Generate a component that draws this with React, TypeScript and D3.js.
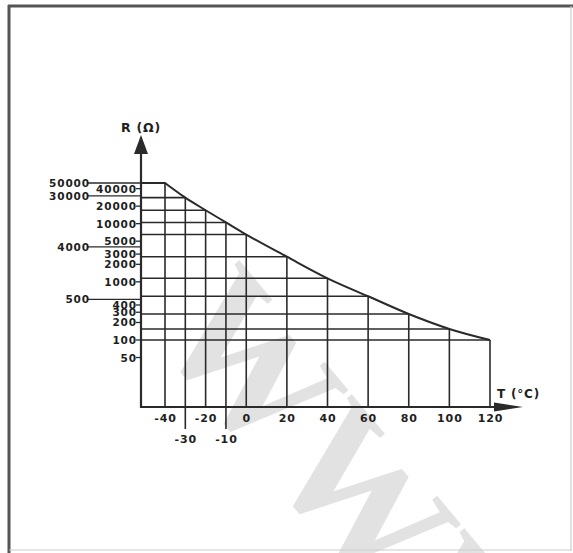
import React from "react";
import * as d3 from "d3";

const temps = [-40, -30, -20, -10, 0, 20, 40, 60, 80, 100, 120];
const resist = [50000, 28000, 17000, 10500, 6500, 2700, 1150, 565, 280, 155, 100];
const xTickRow1 = [-40, -20, 0, 20, 40, 60, 80, 100, 120];
const xTickRow2 = [-30, -10];
const yTicksInner = [40000, 20000, 10000, 5000, 3000, 2000, 1000, 400, 300, 200, 100, 50];
const yTicksOuter = [50000, 30000, 4000, 500];

const W = 573;
const H = 553;
const axisX = 141;
const axisY = 407;

export default function App() {
  const x = d3.scaleLinear().domain([-40, 120]).range([165, 490]);
  const y = d3.scaleLog().domain([100, 50000]).range([340, 183]);

  const pts: [number, number][] = temps.map((t, i) => [x(t), y(resist[i])]);
  const curve = d3.line<[number, number]>().x(d => d[0]).y(d => d[1]).curve(d3.curveMonotoneX);
  const curvePath = `M${axisX},${y(resist[0])}L${pts[0][0]},${pts[0][1]}` + (curve(pts) || "").replace(/^M[^LC]*/, "");

  const ink = "#2a2a2a";
  const font = "'DejaVu Sans', Verdana, sans-serif";

  return (
    <svg width={W} height={H} style={{ position: "absolute", left: 0, top: 0, background: "#fff" }}>
      <rect x={0} y={0} width={W} height={H} fill="#fff" />
      {/* watermark */}
      <text
        transform="translate(150,332) rotate(50)"
        fontFamily="'Liberation Serif', 'DejaVu Serif', serif"
        fontWeight="bold"
        fontSize={175}
        fill="#e2e2e2"
      >
        WWW
      </text>
      {/* frame */}
      <line x1={8} y1={6} x2={573} y2={6} stroke="#555" strokeWidth={3} />
      <line x1={9} y1={5} x2={9} y2={553} stroke="#555" strokeWidth={3} />
      <line x1={571} y1={6} x2={571} y2={551} stroke="#ccc" strokeWidth={1.2} />
      <line x1={9} y1={550} x2={571} y2={550} stroke="#ccc" strokeWidth={1.2} />

      {/* horizontal grid */}
      {temps.map((t, i) => (
        <line key={"h" + i} x1={axisX} x2={x(t)} y1={y(resist[i])} y2={y(resist[i])} stroke={ink} strokeWidth={1.6} />
      ))}
      {/* vertical grid */}
      {temps.map((t, i) => (
        <line
          key={"v" + i}
          x1={x(t)}
          x2={x(t)}
          y1={xTickRow2.includes(t) ? 429 : axisY}
          y2={y(resist[i])}
          stroke={ink}
          strokeWidth={1.6}
        />
      ))}
      {/* curve */}
      <path d={curvePath} fill="none" stroke={ink} strokeWidth={2} />

      {/* axes */}
      <line x1={axisX} x2={axisX} y1={axisY + 1} y2={150} stroke={ink} strokeWidth={2.2} />
      <path d={`M${axisX - 7},${154} L${axisX},${135} L${axisX + 7},${154} Z`} fill={ink} />
      <line x1={axisX - 1} x2={500} y1={axisY} y2={axisY} stroke={ink} strokeWidth={2.2} />
      <path d={`M${494},${axisY - 4.5} L${523},${axisY} L${494},${axisY + 4.5} Z`} fill={ink} />

      {/* y ticks */}
      {yTicksInner.map(v => (
        <g key={"yi" + v}>
          <line x1={136} x2={axisX} y1={y(v)} y2={y(v)} stroke={ink} strokeWidth={1.3} />
          <text x={137} y={y(v) + 4} textAnchor="end" fontFamily={font} fontWeight="bold" fontSize={10.5} letterSpacing={0.9} fill="#1e1e1e">
            {v}
          </text>
        </g>
      ))}
      {yTicksOuter.map(v => (
        <g key={"yo" + v}>
          <line x1={88} x2={axisX} y1={y(v)} y2={y(v)} stroke={ink} strokeWidth={1.3} />
          <text x={90} y={y(v) + 4} textAnchor="end" fontFamily={font} fontWeight="bold" fontSize={10.5} letterSpacing={0.9} fill="#1e1e1e">
            {v}
          </text>
        </g>
      ))}

      {/* x tick labels */}
      {xTickRow1.map(t => (
        <text key={"x1" + t} x={x(t) + 0.5} y={422} textAnchor="middle" fontFamily={font} fontWeight="bold" fontSize={11} letterSpacing={0.9} fill="#1e1e1e">
          {t}
        </text>
      ))}
      {xTickRow2.map(t => (
        <text key={"x2" + t} x={x(t) + 0.5} y={443} textAnchor="middle" fontFamily={font} fontWeight="bold" fontSize={11} letterSpacing={0.9} fill="#1e1e1e">
          {t}
        </text>
      ))}

      {/* axis titles */}
      <text x={141} y={132} textAnchor="middle" fontFamily={font} fontWeight="bold" fontSize={12.5} letterSpacing={0.8} fill="#1e1e1e">
        R (Ω)
      </text>
      <text x={497} y={398} fontFamily={font} fontWeight="bold" fontSize={12} letterSpacing={0.8} fill="#1e1e1e">
        T (°C)
      </text>
    </svg>
  );
}
